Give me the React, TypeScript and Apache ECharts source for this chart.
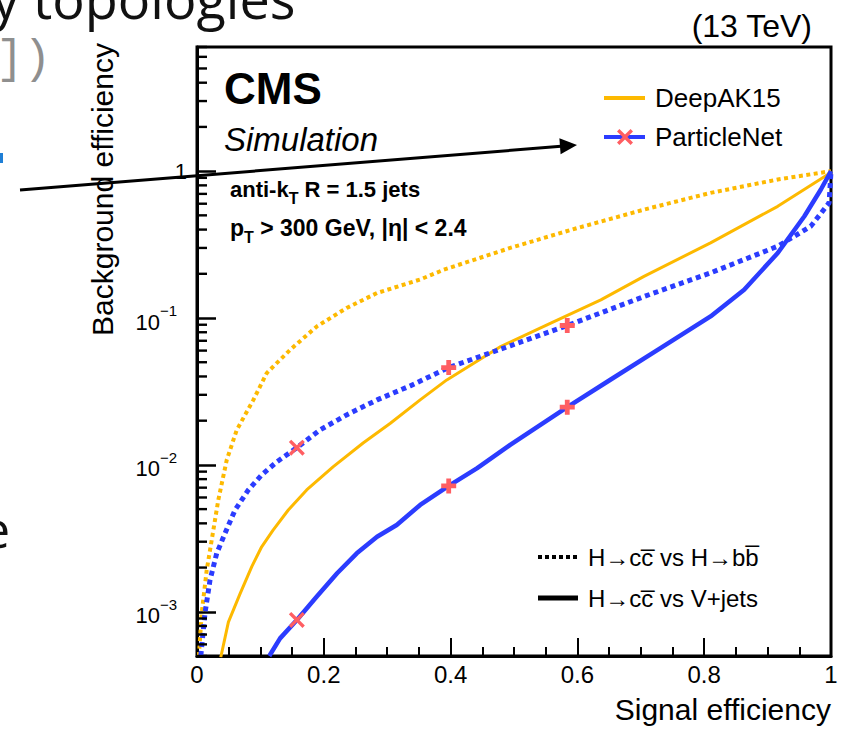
import React, { useEffect, useRef } from 'react';
import * as echarts from 'echarts';

const FONT = '"Liberation Sans", Arial, Helvetica, sans-serif';
const ORANGE = '#fdb900';
const BLUE = '#2b3cff';
const RED = '#ff5e62';

// Axis ranges
const X_MIN = 0;
const X_MAX = 1;
const Y_MIN = 5e-4;
const Y_MAX = 7;

// DeepAK15, H->cc vs H->bb (dotted)
const dak15BbSig = [0.003, 0.0074, 0.0153, 0.0232, 0.0336, 0.0469, 0.0627, 0.0889, 0.110, 0.147, 0.189, 0.236, 0.284, 0.352, 0.389, 0.494, 0.600, 0.705, 0.810, 0.916, 1.0];
const dak15BbBkg = [5.0e-4, 9.8e-4, 1.92e-3, 3.08e-3, 5.77e-3, 0.0108, 0.0173, 0.0277, 0.0422, 0.0608, 0.0877, 0.117, 0.148, 0.183, 0.213, 0.300, 0.410, 0.547, 0.711, 0.877, 1.0];

// DeepAK15, H->cc vs V+jets (solid)
const dak15VjSig = [0.0375, 0.0495, 0.068, 0.0864, 0.102, 0.120, 0.144, 0.173, 0.215, 0.262, 0.305, 0.352, 0.394, 0.479, 0.558, 0.637, 0.705, 0.810, 0.916, 0.995, 1.0];
const dak15VjBkg = [4.9e-4, 8.5e-4, 1.33e-3, 2.03e-3, 2.77e-3, 3.6e-3, 4.93e-3, 6.75e-3, 9.73e-3, 0.0141, 0.0192, 0.0277, 0.0379, 0.064, 0.0924, 0.133, 0.192, 0.325, 0.576, 0.95, 1.0];

// ParticleNet, H->cc vs H->bb (dotted)
const pnetBbSig = [0.006, 0.0126, 0.0205, 0.0311, 0.0442, 0.060, 0.081, 0.102, 0.126, 0.1575, 0.194, 0.236, 0.284, 0.336, 0.397, 0.494, 0.584, 0.705, 0.810, 0.916, 0.968, 0.997, 1.0];
const pnetBbBkg = [5.0e-4, 9.8e-4, 1.64e-3, 2.5e-3, 3.42e-3, 4.93e-3, 6.75e-3, 8.55e-3, 0.0105, 0.0131, 0.0173, 0.0219, 0.0277, 0.0345, 0.046, 0.0647, 0.0889, 0.140, 0.203, 0.308, 0.421, 0.608, 1.0];

// ParticleNet, H->cc vs V+jets (solid)
const pnetVjSig = [0.114, 0.131, 0.1575, 0.189, 0.221, 0.252, 0.284, 0.315, 0.352, 0.397, 0.442, 0.494, 0.584, 0.652, 0.731, 0.810, 0.863, 0.916, 0.958, 0.984, 1.0];
const pnetVjBkg = [5.0e-4, 6.59e-4, 8.8e-4, 1.27e-3, 1.83e-3, 2.5e-3, 3.24e-3, 3.9e-3, 5.34e-3, 7.19e-3, 9.5e-3, 0.0137, 0.0247, 0.038, 0.0624, 0.1025, 0.156, 0.277, 0.493, 0.75, 1.0];

// ParticleNet working points (markers)
const wpSig = [0.1575, 0.397, 0.584];
const wpBkgBb = [0.0131, 0.046, 0.0889];
const wpBkgVj = [8.8e-4, 7.19e-3, 0.0247];

const legendTop = ['DeepAK15', 'ParticleNet'];
const legendBottom = ['H\u2192cc\u0305 vs H\u2192bb\u0305', 'H\u2192cc\u0305 vs V+jets'];

const X_SYMBOL = 'path://M0,1.5 L1.5,0 L5,3.5 L8.5,0 L10,1.5 L6.5,5 L10,8.5 L8.5,10 L5,6.5 L1.5,10 L0,8.5 L3.5,5 Z';
const PLUS_SYMBOL = 'path://M3.4,0 L6.6,0 L6.6,3.4 L10,3.4 L10,6.6 L6.6,6.6 L6.6,10 L3.4,10 L3.4,6.6 L0,6.6 L0,3.4 L3.4,3.4 Z';

const zip = (xs: number[], ys: number[]) => xs.map((x, i) => [x, ys[i]]);

// minor tick values of the log axis (2..9 x 10^n inside the range)
function minorLogTicks(min: number, max: number): number[] {
  const out: number[] = [];
  for (let e = Math.floor(Math.log10(min)); e <= Math.ceil(Math.log10(max)); e++) {
    for (let k = 2; k <= 9; k++) {
      const v = k * Math.pow(10, e);
      if (v >= min * 0.999 && v <= max * 1.001) out.push(v);
    }
  }
  return out;
}

function xPolygon(cx: number, cy: number, size: number): number[][] {
  const pts = [[0, 1.5], [1.5, 0], [5, 3.5], [8.5, 0], [10, 1.5], [6.5, 5], [10, 8.5], [8.5, 10], [5, 6.5], [1.5, 10], [0, 8.5], [3.5, 5]];
  const s = size / 10;
  return pts.map(([px, py]) => [cx - size / 2 + px * s, cy - size / 2 + py * s]);
}

export default function App() {
  const ref = useRef<HTMLDivElement>(null);

  useEffect(() => {
    if (!ref.current) return;
    const chart = echarts.init(ref.current, undefined, { renderer: 'svg' });

    const lineSeries = (name: string, data: number[][], color: string, width: number, dash: any, z: number) => ({
      type: 'line', name, data, showSymbol: false, symbol: 'none', smooth: false, z,
      lineStyle: { color, width, type: dash, cap: 'butt' },
      emphasis: { disabled: true },
    });

    const markerSeries = (name: string, data: number[][]) => ({
      type: 'scatter', name, data,
      symbol: (_v: any, p: any) => (p.dataIndex === 0 ? X_SYMBOL : PLUS_SYMBOL),
      symbolSize: (_v: any, p: any) => (p.dataIndex === 0 ? 16 : 15),
      itemStyle: { color: RED, opacity: 1 },
      z: 6,
      emphasis: { disabled: true },
    });

    const option: any = {
      animation: false,
      backgroundColor: '#ffffff',
      grid: {
        left: 197, right: 10, top: 47, bottom: 74,
        show: true, borderColor: '#000', borderWidth: 3, backgroundColor: 'transparent',
        containLabel: false, outerBoundsMode: 'none',
      },
      xAxis: {
        type: 'value', min: X_MIN, max: X_MAX, interval: 0.2,
        axisLine: { show: true, onZero: false, lineStyle: { color: '#000', width: 3 } },
        axisTick: { show: true, inside: true, length: 18, lineStyle: { color: '#000', width: 2 } },
        minorTick: { show: true, splitNumber: 4, length: 9, lineStyle: { color: '#000', width: 2 } },
        splitLine: { show: false },
        minorSplitLine: { show: false },
        axisLabel: {
          color: '#000', fontSize: 24, fontFamily: FONT, margin: 6,
          formatter: (v: number) => (v === 0 ? '0' : v === 1 ? '1' : String(Math.round(v * 10) / 10)),
        },
        name: 'Signal efficiency', nameLocation: 'end', nameGap: 0,
        nameTextStyle: { fontSize: 30, fontFamily: FONT, color: '#000', align: 'right', verticalAlign: 'top', padding: [38, 0, 0, 0] },
      },
      yAxis: {
        type: 'log', logBase: 10, min: Y_MIN, max: Y_MAX, position: 'left',
        axisLine: { show: true, onZero: false, lineStyle: { color: '#000', width: 3 } },
        axisTick: { show: true, inside: true, length: 19, lineStyle: { color: '#000', width: 2.5 } },
        splitLine: { show: false },
        axisLabel: {
          color: '#000', margin: 10, showMinLabel: false, showMaxLabel: false,
          formatter: (v: number) => {
            const e = Math.round(Math.log10(v));
            if (e === 0) return '{one|1}';
            return '{base|10}{sup|\u2212' + Math.abs(e) + '}';
          },
          rich: {
            one: { fontSize: 22, fontFamily: FONT, color: '#000' },
            base: { fontSize: 22, fontFamily: FONT, color: '#000', lineHeight: 30, verticalAlign: 'bottom' },
            sup: { fontSize: 15, fontFamily: FONT, color: '#000', lineHeight: 15, verticalAlign: 'top', padding: [0, 10, 0, 0] },
          },
        },
        name: 'Background efficiency', nameLocation: 'end', nameGap: 4, nameRotate: 90,
        nameTextStyle: { fontSize: 30, fontFamily: FONT, color: '#000', align: 'right', verticalAlign: 'bottom', padding: [0, 0, 80, 0] },
      },
      series: [
        {
          // minor ticks of the logarithmic y axis, placed through the axis scale
          type: 'custom', name: 'minor ticks', coordinateSystem: 'cartesian2d',
          data: minorLogTicks(Y_MIN, Y_MAX).map((v) => [X_MIN, v]),
          clip: false, silent: true, z: 7,
          renderItem: (_params: any, api: any) => {
            const p = api.coord([api.value(0), api.value(1)]);
            return {
              type: 'rect',
              shape: { x: p[0], y: p[1] - 1.2, width: 10, height: 2.4 },
              style: { fill: '#000' },
            };
          },
        },
        lineSeries('DeepAK15 H\u2192cc\u0305 vs H\u2192bb\u0305', zip(dak15BbSig, dak15BbBkg), ORANGE, 4, [4, 3.5], 2),
        lineSeries('DeepAK15 H\u2192cc\u0305 vs V+jets', zip(dak15VjSig, dak15VjBkg), ORANGE, 3, 'solid', 2),
        lineSeries('ParticleNet H\u2192cc\u0305 vs V+jets', zip(pnetVjSig, pnetVjBkg), BLUE, 4.5, 'solid', 3),
        lineSeries('ParticleNet H\u2192cc\u0305 vs H\u2192bb\u0305', zip(pnetBbSig, pnetBbBkg), BLUE, 5, [5, 4], 4),
        markerSeries('ParticleNet WP (H\u2192bb\u0305)', zip(wpSig, wpBkgBb)),
        markerSeries('ParticleNet WP (V+jets)', zip(wpSig, wpBkgVj)),
      ],
      graphic: [
        // slide remnants around the figure
        { type: 'text', x: -8, y: -2, style: { text: 'y topologies', fontSize: 54, fontFamily: '"Open Sans", "Noto Sans", sans-serif', fill: '#111', verticalAlign: 'middle', align: 'left' } },
        { type: 'text', x: -4, y: 60, style: { text: '])', fontSize: 46, fontFamily: '"Liberation Mono", "DejaVu Sans Mono", monospace', fill: '#8f8f8f', verticalAlign: 'middle', align: 'left' } },
        { type: 'rect', shape: { x: 0, y: 153, width: 3, height: 10 }, style: { fill: '#1f7fd6' } },
        { type: 'text', x: -19, y: 527, style: { text: 'e', fontSize: 52, fontFamily: '"Open Sans", "Noto Sans", sans-serif', fill: '#111', verticalAlign: 'middle', align: 'left' } },
        // CMS labels
        { type: 'text', x: 812, y: 26, style: { text: '(13 TeV)', fontSize: 32, fontFamily: FONT, fill: '#000', align: 'right', verticalAlign: 'middle' } },
        { type: 'text', x: 224, y: 88, style: { text: 'CMS', fontSize: 44, fontWeight: 'bold', fontFamily: FONT, fill: '#000', align: 'left', verticalAlign: 'middle' } },
        { type: 'text', x: 224, y: 139, style: { text: 'Simulation', fontSize: 33, fontStyle: 'italic', fontFamily: FONT, fill: '#000', align: 'left', verticalAlign: 'middle' } },
        {
          type: 'text', x: 230, y: 189,
          style: {
            text: '{a|anti-k}{s|T}{a| R = 1.5 jets}', align: 'left', verticalAlign: 'middle',
            rich: {
              a: { fontSize: 22, fontWeight: 'bold', fontFamily: FONT, fill: '#000' },
              s: { fontSize: 16, fontWeight: 'bold', fontFamily: FONT, fill: '#000', padding: [18, 0, 0, 0] },
            },
          },
        },
        {
          type: 'text', x: 230, y: 228,
          style: {
            text: '{a|p}{s|T}{a| > 300 GeV, |\u03b7| < 2.4}', align: 'left', verticalAlign: 'middle',
            rich: {
              a: { fontSize: 23, fontWeight: 'bold', fontFamily: FONT, fill: '#000' },
              s: { fontSize: 16, fontWeight: 'bold', fontFamily: FONT, fill: '#000', padding: [18, 0, 0, 0] },
            },
          },
        },
        // top legend
        { type: 'line', shape: { x1: 604, y1: 98, x2: 645, y2: 98 }, style: { stroke: ORANGE, lineWidth: 4 } },
        { type: 'text', x: 655, y: 98, style: { text: legendTop[0], fontSize: 26, fontFamily: FONT, fill: '#000', align: 'left', verticalAlign: 'middle' } },
        { type: 'line', shape: { x1: 604, y1: 137, x2: 645, y2: 137 }, style: { stroke: BLUE, lineWidth: 4 } },
        { type: 'polygon', shape: { points: xPolygon(625, 137, 16) }, style: { fill: RED } },
        { type: 'text', x: 655, y: 137, style: { text: legendTop[1], fontSize: 26, fontFamily: FONT, fill: '#000', align: 'left', verticalAlign: 'middle' } },
        // bottom legend
        { type: 'line', shape: { x1: 538, y1: 557, x2: 578, y2: 557 }, style: { stroke: '#000', lineWidth: 4, lineDash: [4, 3] } },
        { type: 'text', x: 588, y: 557, style: { text: legendBottom[0], fontSize: 24, fontFamily: FONT, fill: '#000', align: 'left', verticalAlign: 'middle' } },
        { type: 'line', shape: { x1: 538, y1: 598, x2: 578, y2: 598 }, style: { stroke: '#000', lineWidth: 5 } },
        { type: 'text', x: 588, y: 598, style: { text: legendBottom[1], fontSize: 24, fontFamily: FONT, fill: '#000', align: 'left', verticalAlign: 'middle' } },
        // annotation arrow
        { type: 'line', z: 100, shape: { x1: 20, y1: 190, x2: 561, y2: 146.3 }, style: { stroke: '#000', lineWidth: 3 } },
        { type: 'polygon', z: 100, shape: { points: [[577, 145], [560.6, 154.3], [559.4, 138.3]] }, style: { fill: '#000' } },
      ],
    };

    chart.setOption(option);
    return () => chart.dispose();
  }, []);

  return <div ref={ref} style={{ position: 'fixed', left: 0, top: 0, width: 841, height: 730 }} />;
}
